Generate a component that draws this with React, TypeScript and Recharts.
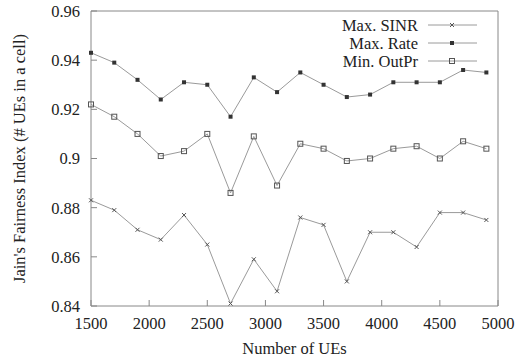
import { LineChart, Line, XAxis, YAxis, Legend } from "recharts";

const FONT = "'Liberation Serif', 'Times New Roman', serif";

// number of UEs on x
const ues = [1500, 1700, 1900, 2100, 2300, 2500, 2700, 2900, 3100, 3300, 3500, 3700, 3900, 4100, 4300, 4500, 4700, 4900];

const maxSinr = [0.883, 0.879, 0.871, 0.867, 0.877, 0.865, 0.841, 0.859, 0.846, 0.876, 0.873, 0.85, 0.87, 0.87, 0.864, 0.878, 0.878, 0.875];
const maxRate = [0.943, 0.939, 0.932, 0.924, 0.931, 0.93, 0.917, 0.933, 0.927, 0.935, 0.93, 0.925, 0.926, 0.931, 0.931, 0.931, 0.936, 0.935];
const minOutPr = [0.922, 0.917, 0.91, 0.901, 0.903, 0.91, 0.886, 0.909, 0.889, 0.906, 0.904, 0.899, 0.9, 0.904, 0.905, 0.9, 0.907, 0.904];

const xTicks = [1500, 2000, 2500, 3000, 3500, 4000, 4500, 5000];
const yTicks = [0.84, 0.86, 0.88, 0.9, 0.92, 0.94, 0.96];

const seriesNames = ["Max. SINR", "Max. Rate", "Min. OutPr"];

const data = ues.map((u, i) => ({
  ues: u,
  maxSinr: maxSinr[i],
  maxRate: maxRate[i],
  minOutPr: minOutPr[i],
}));

const LINE = "#9a9a9a";
const MARK = "#555";
const FRAME = "#888";
const TEXT = "#222";

const drawMarker = (kind: string, cx: number, cy: number, key?: any) => {
  if (kind === "cross") {
    return (
      <g key={key}>
        <line x1={cx - 2} y1={cy - 2} x2={cx + 2} y2={cy + 2} stroke={MARK} strokeWidth={1} />
        <line x1={cx - 2} y1={cy + 2} x2={cx + 2} y2={cy - 2} stroke={MARK} strokeWidth={1} />
      </g>
    );
  }
  if (kind === "filled") {
    return <rect key={key} x={cx - 2} y={cy - 2} width={4} height={4} fill="#333" />;
  }
  return <rect key={key} x={cx - 2.5} y={cy - 2.5} width={5} height={5} fill="none" stroke={MARK} strokeWidth={1} />;
};

const markerFor = (kind: string) => (props: any) => {
  const { cx, cy, index } = props;
  return drawMarker(kind, cx, cy, `m-${kind}-${index}`);
};

const kinds: Record<string, string> = {
  "Max. SINR": "cross",
  "Max. Rate": "filled",
  "Min. OutPr": "square",
};

// gnuplot style key, keep the plotting order
const renderLegend = () => {
  return (
    <svg width={200} height={60} style={{ display: "block" }}>
      {seriesNames.map((name, i) => {
        const y = 10 + i * 18;
        return (
          <g key={name}>
            <text x={128} y={y} textAnchor="end" dominantBaseline="central" fontFamily={FONT} fontSize={16.5} fill={TEXT}>
              {name}
            </text>
            <line x1={138} y1={y} x2={187} y2={y} stroke={LINE} strokeWidth={1} />
            {drawMarker(kinds[name], 162, y)}
          </g>
        );
      })}
    </svg>
  );
};

const tickStyle = { fontFamily: FONT, fontSize: 16.5, fill: TEXT };

const App = () => {
  return (
    <div style={{ position: "fixed", left: 0, top: 0, background: "#fff" }}>
      <LineChart width={522} height={362} data={data} margin={{ top: 10, right: 23, left: 0, bottom: 0 }}>
        <XAxis
          dataKey="ues"
          type="number"
          domain={[1500, 5000]}
          ticks={xTicks}
          height={56}
          tickSize={-6}
          tickMargin={17}
          tick={tickStyle}
          stroke={FRAME}
          label={{ value: "Number of UEs", position: "insideBottom", offset: 8, style: { fontFamily: FONT, fontSize: 16.5, fill: TEXT } }}
        />
        <XAxis
          xAxisId="top"
          orientation="top"
          dataKey="ues"
          type="number"
          domain={[1500, 5000]}
          ticks={xTicks}
          height={1}
          tickSize={-6}
          tick={false}
          stroke={FRAME}
        />
        <YAxis
          type="number"
          domain={[0.84, 0.96]}
          ticks={yTicks}
          width={91}
          tickSize={-6}
          tickMargin={17}
          tick={tickStyle}
          tickFormatter={(v: number) => String(Number(v.toFixed(2)))}
          stroke={FRAME}
          label={{
            value: "Jain's Fairness Index (# UEs in a cell)",
            angle: -90,
            position: "insideLeft",
            offset: 19,
            style: { fontFamily: FONT, fontSize: 16.5, fill: TEXT, textAnchor: "middle" },
          }}
        />
        <YAxis
          yAxisId="right"
          orientation="right"
          type="number"
          domain={[0.84, 0.96]}
          ticks={yTicks}
          width={1}
          tickSize={-6}
          tick={false}
          stroke={FRAME}
        />
        <Legend verticalAlign="middle" layout="vertical" align="center" content={renderLegend} wrapperStyle={{ top: 15, left: 290, width: 200, height: 60 }} />
        <Line dataKey="maxSinr" name="Max. SINR" stroke={LINE} strokeWidth={1} dot={markerFor("cross")} activeDot={false} isAnimationActive={false} />
        <Line dataKey="maxRate" name="Max. Rate" stroke={LINE} strokeWidth={1} dot={markerFor("filled")} activeDot={false} isAnimationActive={false} />
        <Line dataKey="minOutPr" name="Min. OutPr" stroke={LINE} strokeWidth={1} dot={markerFor("square")} activeDot={false} isAnimationActive={false} />
        {/* invisible series so the mirrored top/right axes get drawn */}
        <Line xAxisId="top" yAxisId="right" dataKey="maxRate" stroke="none" dot={false} activeDot={false} legendType="none" isAnimationActive={false} />
      </LineChart>
    </div>
  );
};

export default App;
